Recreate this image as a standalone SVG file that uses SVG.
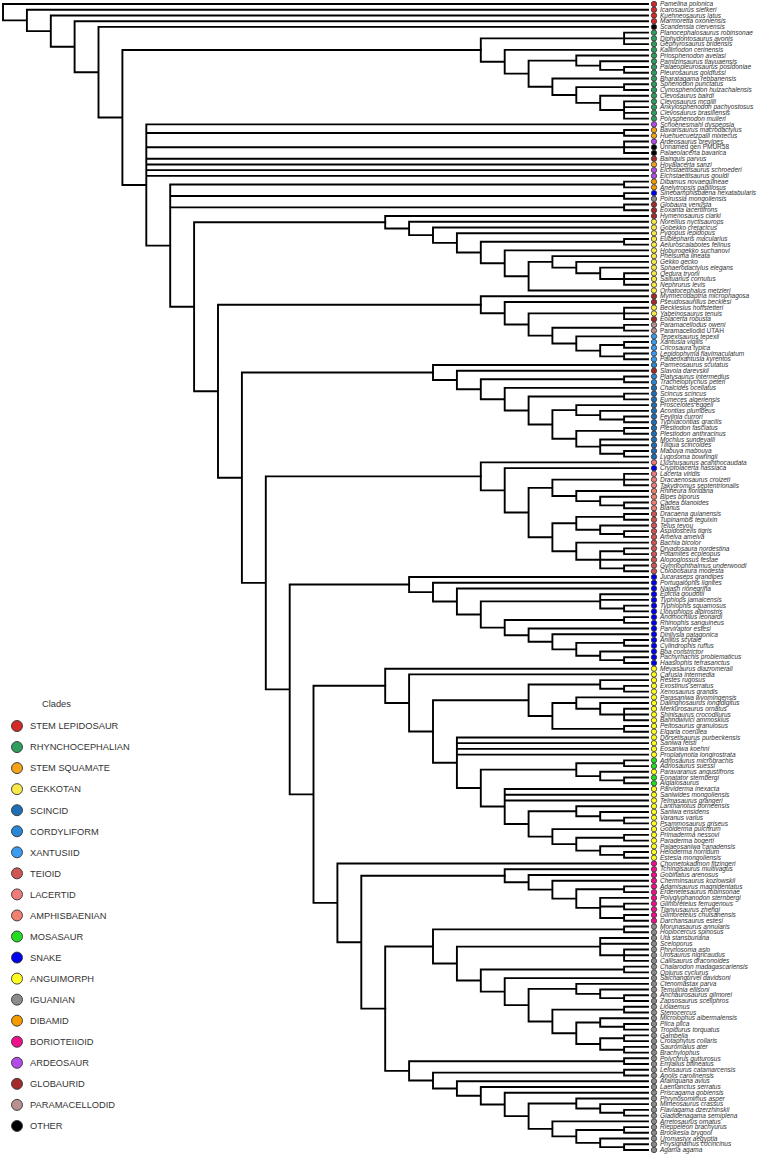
<svg xmlns="http://www.w3.org/2000/svg" width="763" height="1154" viewBox="0 0 763 1154">
<style>
.tree path{fill:none;stroke:#000;stroke-width:1.9;stroke-linecap:square;vector-effect:non-scaling-stroke}
.tip text{font-family:"Liberation Sans",Arial,sans-serif;font-size:6.5px;font-style:italic;fill:#333}
.tip text.n{font-style:normal}
.tip circle{stroke:#333;stroke-width:0.8}
.leg text{font-family:"Liberation Sans",Arial,sans-serif;font-size:9.3px;fill:#333}
.leg circle{stroke:#333;stroke-width:0.9}
.sl{fill:#d42a2a}.rh{fill:#2e9e5e}.ss{fill:#f5a31a}.gk{fill:#f7e94a}.sc{fill:#1f6fb5}.co{fill:#2a86d6}.xa{fill:#3a9cf0}.te{fill:#d05555}.la{fill:#ef7b7b}.am{fill:#f08070}.mo{fill:#22dd22}.sn{fill:#0000ee}.an{fill:#ffff22}.ig{fill:#8c8c8c}.di{fill:#f59a00}.bo{fill:#f0108c}.ar{fill:#b44be8}.gl{fill:#a52a2a}.pm{fill:#b89090}.ot{fill:#000}
</style>
<g id="connectors" class="tree" transform="translate(0,4) scale(1,5.73)">
<path id="backbone" d="M3 0V2.86M3 0H648M3 2.86H26.9M26.9 1V4.727M26.9 1H648M26.9 4.727H50.8M50.8 2V7.45M50.8 2H648M50.8 7.45H74.6M74.6 3V11.905M74.6 3H648M74.6 11.905H98.5M98.5 4V19.81M98.5 4H648M98.5 19.81H122.4M122.4 8.039V31.58M122.4 8.039H480.8M122.4 31.58H146.3M146.3 21V42.165M146.3 21H648M146.3 22.5H624.1M146.3 25H624.1M146.3 27H648M146.3 28H648M146.3 29H648M146.3 30H648M146.3 42.165H170.2M170.2 31.5V52.83M170.2 31.5H624.1M170.2 33.5H624.1M170.2 35.5H624.1M170.2 52.83H194.1M194.1 38.086V67.577M194.1 38.086H385.2M194.1 67.577H218M218 52.484V82.67M218 52.484H480.8M218 82.67H241.9M241.9 64.309V101.03M241.9 64.309H433M241.9 101.03H265.8M265.8 82.438V119.62M265.8 82.438H480.8M265.8 119.62H289.7M289.7 101.318V137.93M289.7 101.318H409.1M289.7 137.93H313.5M313.5 118.99V156.87M313.5 118.99H385.2M313.5 156.87H337.4M337.4 150V163.74M337.4 150H648M337.4 163.74H361.3M361.3 152.14V175.335M361.3 152.14H504.7M361.3 175.335H385.2"/>
<path id="stem-pairs" d="M624.1 22V23M624.1 22H648M624.1 23H648M624.1 24V26M624.1 24H648M624.1 25H648M624.1 26H648M624.1 31V32M624.1 31H648M624.1 32H648M624.1 33V34M624.1 33H648M624.1 34H648M624.1 35V36M624.1 35H648M624.1 36H648"/>
<path id="rhyncho" d="M480.8 6V10.078M480.8 6H624.1M480.8 10.078H504.7M624.1 5V7M624.1 5H648M624.1 6H648M624.1 7H648M504.7 8V12.156M504.7 8H648M504.7 12.156H528.6M528.6 9.875V14.438M528.6 9.875H576.3M528.6 14.438H552.4M576.3 9V10.75M576.3 9H648M576.3 10.75H600.2M600.2 10V11.5M600.2 10H648M600.2 11.5H624.1M624.1 11V12M624.1 11H648M624.1 12H648M552.4 13V15.875M552.4 13H648M552.4 15.875H576.3M576.3 14.5V17.25M576.3 14.5H624.1M576.3 17.25H600.2M624.1 14V15M624.1 14H648M624.1 15H648M600.2 16V18.5M600.2 16H648M600.2 18.5H624.1M624.1 17V20M624.1 17H648M624.1 18H648M624.1 19H648M624.1 20H648"/>
<path id="gekkota" d="M385.2 37V39.172M385.2 37H648M385.2 39.172H409.1M409.1 38V40.344M409.1 38H648M409.1 40.344H433M433 39V41.688M433 39H648M433 41.688H456.9M456.9 40V43.375M456.9 40H648M456.9 43.375H480.8M480.8 41.5V45.25M480.8 41.5H624.1M480.8 45.25H504.7M624.1 41V42M624.1 41H648M624.1 42H648M504.7 43V47.5M504.7 43H648M504.7 47.5H528.6M528.6 45V50M528.6 45H552.4M528.6 50H648M552.4 44V46M552.4 44H648M552.4 46H576.3M576.3 45V47M576.3 45H648M576.3 47H600.2M600.2 46V48M600.2 46H648M600.2 48H624.1M624.1 47V49M624.1 47H648M624.1 48H648M624.1 49H648"/>
<path id="paramac" d="M480.8 51V53.969M480.8 51H648M480.8 53.969H504.7M504.7 52V55.938M504.7 52H648M504.7 55.938H528.6M528.6 54V57.875M528.6 54H624.1M528.6 57.875H552.4M624.1 53V55M624.1 53H648M624.1 54H648M624.1 55H648M552.4 56.5V59.25M552.4 56.5H624.1M552.4 59.25H576.3M624.1 56V57M624.1 56H648M624.1 57H648M576.3 58V60.5M576.3 58H648M576.3 60.5H600.2M600.2 59.5V61.5M600.2 59.5H624.1M600.2 61.5H624.1M624.1 59V60M624.1 59H648M624.1 60H648M624.1 61V62M624.1 61H648M624.1 62H648"/>
<path id="scincoid" d="M433 63V65.617M433 63H648M433 65.617H456.9M456.9 64V67.234M456.9 64H648M456.9 67.234H480.8M480.8 65.5V68.969M480.8 65.5H624.1M480.8 68.969H504.7M624.1 65V66M624.1 65H648M624.1 66H648M504.7 67V70.938M504.7 67H648M504.7 70.938H528.6M528.6 68.5V73.375M528.6 68.5H624.1M528.6 73.375H552.4M624.1 68V69M624.1 68H648M624.1 69H648M552.4 70.875V75.875M552.4 70.875H576.3M552.4 75.875H576.3M576.3 70V71.75M576.3 70H648M576.3 71.75H600.2M600.2 71V72.5M600.2 71H648M600.2 72.5H624.1M624.1 72V73M624.1 72H648M624.1 73H648M576.3 74.5V77.25M576.3 74.5H624.1M576.3 77.25H600.2M624.1 74V75M624.1 74H648M624.1 75H648M600.2 76V78.5M600.2 76H648M600.2 77H648M600.2 78.5H624.1M624.1 78V79M624.1 78H648M624.1 79H648"/>
<path id="lacertoid" d="M480.8 80V84.875M480.8 80H648M480.8 84.875H504.7M504.7 81V88.75M504.7 81H648M504.7 88.75H528.6M528.6 84.438V93.063M528.6 84.438H552.4M528.6 93.063H552.4M552.4 83V85.875M552.4 83H624.1M552.4 85.875H576.3M624.1 82V84M624.1 82H648M624.1 83H648M624.1 84H648M576.3 85V86.75M576.3 85H648M576.3 86.75H600.2M600.2 86V87.5M600.2 86H648M600.2 87.5H624.1M624.1 87V88M624.1 87H648M624.1 88H648M552.4 90.625V95.5M552.4 90.625H576.3M552.4 95.5H576.3M576.3 89.5V91.75M576.3 89.5H624.1M576.3 91.75H600.2M624.1 89V90M624.1 89H648M624.1 90H648M600.2 91V92.5M600.2 91H648M600.2 92.5H624.1M624.1 92V93M624.1 92H648M624.1 93H648M576.3 94V97M576.3 94H648M576.3 97H600.2M600.2 95.5V98.5M600.2 95.5H624.1M600.2 97H648M600.2 98.5H624.1M624.1 95V96M624.1 95H648M624.1 96H648M624.1 98V99M624.1 98H648M624.1 99H648"/>
<path id="snakes" d="M409.1 100V102.635M409.1 100H648M409.1 102.635H433M433 101V104.27M433 101H648M433 104.27H456.9M456.9 102V106.539M456.9 102H648M456.9 106.539H480.8M480.8 104.25V108.828M480.8 104.25H600.2M480.8 108.828H504.7M600.2 103V105.5M600.2 103H648M600.2 104H648M600.2 105.5H624.1M624.1 105V106M624.1 105H648M624.1 106H648M504.7 107.5V110.156M504.7 107.5H624.1M504.7 110.156H528.6M624.1 107V108M624.1 107H648M624.1 108H648M528.6 109V111.313M528.6 109H648M528.6 111.313H552.4M552.4 110V112.625M552.4 110H648M552.4 112.625H576.3M576.3 111.5V113.75M576.3 111.5H624.1M576.3 113.75H600.2M624.1 111V112M624.1 111H648M624.1 112H648M600.2 113V114.5M600.2 113H648M600.2 114.5H624.1M624.1 114V115M624.1 114H648M624.1 115H648"/>
<path id="anguimorph" d="M385.2 116V121.98M385.2 116H648M385.2 121.98H409.1M409.1 117V126.959M409.1 117H648M409.1 126.959H433M433 121.5V132.418M433 121.5H528.6M433 132.418H456.9M528.6 118.75V124.25M528.6 118.75H600.2M528.6 124.25H552.4M600.2 118V119.5M600.2 118H648M600.2 119.5H624.1M624.1 119V120M624.1 119H648M624.1 120H648M552.4 122V126.5M552.4 122H576.3M552.4 126.5H624.1M576.3 121V123M576.3 121H648M576.3 123H600.2M600.2 122V124M600.2 122H648M600.2 124H624.1M624.1 123V125M624.1 123H648M624.1 124H648M624.1 125H648M624.1 126V127M624.1 126H648M624.1 127H648M456.9 128V136.836M456.9 128H648M456.9 129H648M456.9 130H648M456.9 131H648M456.9 136.836H480.8M480.8 133.625V140.047M480.8 133.625H576.3M480.8 140.047H504.7M576.3 132.5V134.75M576.3 132.5H624.1M576.3 134.75H600.2M624.1 132V133M624.1 132H648M624.1 133H648M600.2 134V135.5M600.2 134H648M600.2 135.5H624.1M624.1 135V136M624.1 135H648M624.1 136H648M504.7 137V143.094M504.7 137H648M504.7 138H648M504.7 139H648M504.7 143.094H528.6M528.6 140.875V145.313M528.6 140.875H576.3M528.6 145.313H552.4M576.3 140V141.75M576.3 140H648M576.3 141.75H600.2M600.2 141V142.5M600.2 141H648M600.2 142.5H624.1M624.1 142V143M624.1 142H648M624.1 143H648M552.4 144V146.625M552.4 144H648M552.4 146.625H576.3M576.3 145.5V147.75M576.3 145.5H624.1M576.3 147.75H600.2M624.1 145V146M624.1 145H648M624.1 146H648M600.2 147V148.5M600.2 147H648M600.2 148.5H624.1M624.1 148V149M624.1 148H648M624.1 149H648"/>
<path id="borioteiioid" d="M504.7 151V153.28M504.7 151H648M504.7 153.28H528.6M528.6 152V154.563M528.6 152H648M528.6 154.563H552.4M552.4 153V156.125M552.4 153H648M552.4 156.125H576.3M576.3 154.5V157.75M576.3 154.5H624.1M576.3 157.75H600.2M624.1 154V155M624.1 154H648M624.1 155H648M600.2 156V159.5M600.2 156H648M600.2 157.5H624.1M600.2 159.5H624.1M624.1 157V158M624.1 157H648M624.1 158H648M624.1 159V160M624.1 159H648M624.1 160H648"/>
<path id="iguania" d="M385.2 164.48V186.19M385.2 164.48H433M385.2 186.19H409.1M433 161.5V167.465M433 161.5H624.1M433 167.465H456.9M624.1 161V162M624.1 161H648M624.1 162H648M456.9 164.5V170.43M456.9 164.5H600.2M456.9 170.43H480.8M600.2 163V166M600.2 163H648M600.2 164H648M600.2 166H624.1M624.1 165V167M624.1 165H648M624.1 166H648M624.1 167H648M480.8 168.5V172.36M480.8 168.5H624.1M480.8 172.36H504.7M624.1 168V169M624.1 168H648M624.1 169H648M504.7 170V174.72M504.7 170H648M504.7 174.72H528.6M528.6 171.875V177.563M528.6 171.875H576.3M528.6 177.563H552.4M576.3 171V172.75M576.3 171H648M576.3 172.75H600.2M600.2 172V173.5M600.2 172H648M600.2 173.5H624.1M624.1 173V174M624.1 173H648M624.1 174H648M552.4 175.5V179.625M552.4 175.5H624.1M552.4 179.625H576.3M624.1 175V176M624.1 175H648M624.1 176H648M576.3 177.75V181.5M576.3 177.75H600.2M576.3 181.5H600.2M600.2 177V178.5M600.2 177H648M600.2 178.5H624.1M624.1 178V179M624.1 178H648M624.1 179H648M600.2 180.5V182.5M600.2 180.5H624.1M600.2 182.5H624.1M624.1 180V181M624.1 180H648M624.1 181H648M624.1 182V183M624.1 182H648M624.1 183H648M409.1 184.5V187.88M409.1 184.5H624.1M409.1 187.88H433M624.1 184V185M624.1 184H648M624.1 185H648M433 186.5V189.26M433 186.5H624.1M433 189.26H456.9M624.1 186V187M624.1 186H648M624.1 187H648M456.9 188V190.52M456.9 188H648M456.9 190.52H480.8M480.8 189V192.05M480.8 189H648M480.8 192.05H504.7M504.7 190V194.09M504.7 190H648M504.7 194.09H528.6M528.6 191.875V196.313M528.6 191.875H576.3M528.6 196.313H552.4M576.3 191V192.75M576.3 191H648M576.3 192.75H600.2M600.2 192V193.5M600.2 192H648M600.2 193.5H624.1M624.1 193V194M624.1 193H648M624.1 194H648M552.4 195V197.625M552.4 195H648M552.4 197.625H576.3M576.3 196.5V198.75M576.3 196.5H624.1M576.3 198.75H600.2M624.1 196V197M624.1 196H648M624.1 197H648M600.2 198V199.5M600.2 198H648M600.2 199.5H624.1M624.1 199V200M624.1 199H648M624.1 200H648"/>
</g>
<g class="tip">
<g id="t0" transform="translate(654,4)"><circle r="2.7" class="sl"/><text x="6" y="2.2">Pamelina polonica</text></g>
<g id="t1" transform="translate(654,9.73)"><circle r="2.7" class="sl"/><text x="6" y="2.2">Icarosaurus siefkeri</text></g>
<g id="t2" transform="translate(654,15.46)"><circle r="2.7" class="sl"/><text x="6" y="2.2">Kuehneosaurus latus</text></g>
<g id="t3" transform="translate(654,21.19)"><circle r="2.7" class="sl"/><text x="6" y="2.2">Marmoretta oxoniensis</text></g>
<g id="t4" transform="translate(654,26.92)"><circle r="2.7" class="ot"/><text x="6" y="2.2">Scandensia ciervensis</text></g>
<g id="t5" transform="translate(654,32.65)"><circle r="2.7" class="rh"/><text x="6" y="2.2">Planocephalosaurus robinsonae</text></g>
<g id="t6" transform="translate(654,38.38)"><circle r="2.7" class="rh"/><text x="6" y="2.2">Diphydontosaurus avonis</text></g>
<g id="t7" transform="translate(654,44.11)"><circle r="2.7" class="rh"/><text x="6" y="2.2">Gephyrosaurus bridensis</text></g>
<g id="t8" transform="translate(654,49.84)"><circle r="2.7" class="rh"/><text x="6" y="2.2">Kallimodon cerinensis</text></g>
<g id="t9" transform="translate(654,55.57)"><circle r="2.7" class="rh"/><text x="6" y="2.2">Priosphenodon avelasi</text></g>
<g id="t10" transform="translate(654,61.3)"><circle r="2.7" class="rh"/><text x="6" y="2.2">Pamizinsaurus tlayuaensis</text></g>
<g id="t11" transform="translate(654,67.03)"><circle r="2.7" class="rh"/><text x="6" y="2.2">Palaeopleurosaurus posidoniae</text></g>
<g id="t12" transform="translate(654,72.76)"><circle r="2.7" class="rh"/><text x="6" y="2.2">Pleurosaurus goldfussi</text></g>
<g id="t13" transform="translate(654,78.49)"><circle r="2.7" class="rh"/><text x="6" y="2.2">Bharatagama rebbanensis</text></g>
<g id="t14" transform="translate(654,84.22)"><circle r="2.7" class="rh"/><text x="6" y="2.2">Sphenodon punctatus</text></g>
<g id="t15" transform="translate(654,89.95)"><circle r="2.7" class="rh"/><text x="6" y="2.2">Cynosphenodon huizachalensis</text></g>
<g id="t16" transform="translate(654,95.68)"><circle r="2.7" class="rh"/><text x="6" y="2.2">Clevosaurus bairdi</text></g>
<g id="t17" transform="translate(654,101.41)"><circle r="2.7" class="rh"/><text x="6" y="2.2">Clevosaurus mcgilli</text></g>
<g id="t18" transform="translate(654,107.14)"><circle r="2.7" class="rh"/><text x="6" y="2.2">Ankylosphenodon pachyostosus</text></g>
<g id="t19" transform="translate(654,112.87)"><circle r="2.7" class="rh"/><text x="6" y="2.2">Clevosaurus brasiliensis</text></g>
<g id="t20" transform="translate(654,118.6)"><circle r="2.7" class="rh"/><text x="6" y="2.2">Polysphenodon mulleri</text></g>
<g id="t21" transform="translate(654,124.33)"><circle r="2.7" class="ar"/><text x="6" y="2.2">Schoenesmahl dyspepsia</text></g>
<g id="t22" transform="translate(654,130.06)"><circle r="2.7" class="ss"/><text x="6" y="2.2">Bavarisaurus macrodactylus</text></g>
<g id="t23" transform="translate(654,135.79)"><circle r="2.7" class="ss"/><text x="6" y="2.2">Huehuecuetzpalli mixtecus</text></g>
<g id="t24" transform="translate(654,141.52)"><circle r="2.7" class="ar"/><text x="6" y="2.2">Ardeosaurus brevipes</text></g>
<g id="t25" transform="translate(654,147.25)"><circle r="2.7" class="ot"/><text x="6" y="2.2" class="n">Unnamed gen PMUR58</text></g>
<g id="t26" transform="translate(654,152.98)"><circle r="2.7" class="ot"/><text x="6" y="2.2">Palaeolacerta bavarica</text></g>
<g id="t27" transform="translate(654,158.71)"><circle r="2.7" class="gl"/><text x="6" y="2.2">Bainguis parvus</text></g>
<g id="t28" transform="translate(654,164.44)"><circle r="2.7" class="ss"/><text x="6" y="2.2">Hoyalacerta sanzi</text></g>
<g id="t29" transform="translate(654,170.17)"><circle r="2.7" class="ar"/><text x="6" y="2.2">Eichstaettisaurus schroederi</text></g>
<g id="t30" transform="translate(654,175.9)"><circle r="2.7" class="ar"/><text x="6" y="2.2">Eichstaettisaurus gouldi</text></g>
<g id="t31" transform="translate(654,181.63)"><circle r="2.7" class="di"/><text x="6" y="2.2">Dibamus novaeguineae</text></g>
<g id="t32" transform="translate(654,187.36)"><circle r="2.7" class="di"/><text x="6" y="2.2">Anelytropsis papillosus</text></g>
<g id="t33" transform="translate(654,193.09)"><circle r="2.7" class="sn"/><text x="6" y="2.2">Sineoamphisbaena hexatabularis</text></g>
<g id="t34" transform="translate(654,198.82)"><circle r="2.7" class="ig"/><text x="6" y="2.2">Polrussia mongoliensis</text></g>
<g id="t35" transform="translate(654,204.55)"><circle r="2.7" class="gl"/><text x="6" y="2.2">Globaura venusta</text></g>
<g id="t36" transform="translate(654,210.28)"><circle r="2.7" class="gl"/><text x="6" y="2.2">Eoxanta lacertifrons</text></g>
<g id="t37" transform="translate(654,216.01)"><circle r="2.7" class="gl"/><text x="6" y="2.2">Hymenosaurus clarki</text></g>
<g id="t38" transform="translate(654,221.74)"><circle r="2.7" class="gk"/><text x="6" y="2.2">Norellius nyctisaurops</text></g>
<g id="t39" transform="translate(654,227.47)"><circle r="2.7" class="gk"/><text x="6" y="2.2">Gobekko cretacicus</text></g>
<g id="t40" transform="translate(654,233.2)"><circle r="2.7" class="gk"/><text x="6" y="2.2">Pygopus lepidopus</text></g>
<g id="t41" transform="translate(654,238.93)"><circle r="2.7" class="gk"/><text x="6" y="2.2">Eublepharis macularius</text></g>
<g id="t42" transform="translate(654,244.66)"><circle r="2.7" class="gk"/><text x="6" y="2.2">Aeluroscalabotes felinus</text></g>
<g id="t43" transform="translate(654,250.39)"><circle r="2.7" class="gk"/><text x="6" y="2.2">Hoburogekko suchanovi</text></g>
<g id="t44" transform="translate(654,256.12)"><circle r="2.7" class="gk"/><text x="6" y="2.2">Phelsuma lineata</text></g>
<g id="t45" transform="translate(654,261.85)"><circle r="2.7" class="gk"/><text x="6" y="2.2">Gekko gecko</text></g>
<g id="t46" transform="translate(654,267.58)"><circle r="2.7" class="gk"/><text x="6" y="2.2">Sphaerodactylus elegans</text></g>
<g id="t47" transform="translate(654,273.31)"><circle r="2.7" class="gk"/><text x="6" y="2.2">Oedura tryoni</text></g>
<g id="t48" transform="translate(654,279.04)"><circle r="2.7" class="gk"/><text x="6" y="2.2">Saltuarius cornutus</text></g>
<g id="t49" transform="translate(654,284.77)"><circle r="2.7" class="gk"/><text x="6" y="2.2">Nephrurus levis</text></g>
<g id="t50" transform="translate(654,290.5)"><circle r="2.7" class="gk"/><text x="6" y="2.2">Ornatocephalus metzleri</text></g>
<g id="t51" transform="translate(654,296.23)"><circle r="2.7" class="gl"/><text x="6" y="2.2">Myrmecodaptria microphagosa</text></g>
<g id="t52" transform="translate(654,301.96)"><circle r="2.7" class="gl"/><text x="6" y="2.2">Pseudosaurillus becklesi</text></g>
<g id="t53" transform="translate(654,307.69)"><circle r="2.7" class="gk"/><text x="6" y="2.2">Becklesius hoffstetteri</text></g>
<g id="t54" transform="translate(654,313.42)"><circle r="2.7" class="gk"/><text x="6" y="2.2">Yabeinosaurus tenuis</text></g>
<g id="t55" transform="translate(654,319.15)"><circle r="2.7" class="gl"/><text x="6" y="2.2">Eolacerta robusta</text></g>
<g id="t56" transform="translate(654,324.88)"><circle r="2.7" class="pm"/><text x="6" y="2.2">Paramacellodus oweni</text></g>
<g id="t57" transform="translate(654,330.61)"><circle r="2.7" class="pm"/><text x="6" y="2.2" class="n">Paramacellodid UTAH</text></g>
<g id="t58" transform="translate(654,336.34)"><circle r="2.7" class="xa"/><text x="6" y="2.2">Tepexisaurus tepexii</text></g>
<g id="t59" transform="translate(654,342.07)"><circle r="2.7" class="xa"/><text x="6" y="2.2">Xantusia vigilis</text></g>
<g id="t60" transform="translate(654,347.8)"><circle r="2.7" class="xa"/><text x="6" y="2.2">Cricosaura typica</text></g>
<g id="t61" transform="translate(654,353.53)"><circle r="2.7" class="xa"/><text x="6" y="2.2">Lepidophyma flavimaculatum</text></g>
<g id="t62" transform="translate(654,359.26)"><circle r="2.7" class="xa"/><text x="6" y="2.2">Palaeoxantusia kyrentos</text></g>
<g id="t63" transform="translate(654,364.99)"><circle r="2.7" class="co"/><text x="6" y="2.2">Parmeosaurus scutatus</text></g>
<g id="t64" transform="translate(654,370.72)"><circle r="2.7" class="gl"/><text x="6" y="2.2">Slavoia darevskii</text></g>
<g id="t65" transform="translate(654,376.45)"><circle r="2.7" class="co"/><text x="6" y="2.2">Platysaurus intermedius</text></g>
<g id="t66" transform="translate(654,382.18)"><circle r="2.7" class="co"/><text x="6" y="2.2">Tracheloptychus peteri</text></g>
<g id="t67" transform="translate(654,387.91)"><circle r="2.7" class="sc"/><text x="6" y="2.2">Chalcides ocellatus</text></g>
<g id="t68" transform="translate(654,393.64)"><circle r="2.7" class="sc"/><text x="6" y="2.2">Scincus scincus</text></g>
<g id="t69" transform="translate(654,399.37)"><circle r="2.7" class="sc"/><text x="6" y="2.2">Eumeces algeriensis</text></g>
<g id="t70" transform="translate(654,405.1)"><circle r="2.7" class="sc"/><text x="6" y="2.2">Proscelotes eggeli</text></g>
<g id="t71" transform="translate(654,410.83)"><circle r="2.7" class="sc"/><text x="6" y="2.2">Acontias plumbeus</text></g>
<g id="t72" transform="translate(654,416.56)"><circle r="2.7" class="sc"/><text x="6" y="2.2">Feylinia currori</text></g>
<g id="t73" transform="translate(654,422.29)"><circle r="2.7" class="sc"/><text x="6" y="2.2">Typhlacontias gracilis</text></g>
<g id="t74" transform="translate(654,428.02)"><circle r="2.7" class="sc"/><text x="6" y="2.2">Plestiodon fasciatus</text></g>
<g id="t75" transform="translate(654,433.75)"><circle r="2.7" class="sc"/><text x="6" y="2.2">Plestiodon anthracinus</text></g>
<g id="t76" transform="translate(654,439.48)"><circle r="2.7" class="sc"/><text x="6" y="2.2">Mochlus sundevalli</text></g>
<g id="t77" transform="translate(654,445.21)"><circle r="2.7" class="sc"/><text x="6" y="2.2">Tiliqua scincoides</text></g>
<g id="t78" transform="translate(654,450.94)"><circle r="2.7" class="sc"/><text x="6" y="2.2">Mabuya mabouya</text></g>
<g id="t79" transform="translate(654,456.67)"><circle r="2.7" class="sc"/><text x="6" y="2.2">Lygosoma bowringii</text></g>
<g id="t80" transform="translate(654,462.4)"><circle r="2.7" class="la"/><text x="6" y="2.2">Liushusaurus acanthocaudata</text></g>
<g id="t81" transform="translate(654,468.13)"><circle r="2.7" class="sn"/><text x="6" y="2.2">Cryptolacerta hassiaca</text></g>
<g id="t82" transform="translate(654,473.86)"><circle r="2.7" class="la"/><text x="6" y="2.2">Lacerta viridis</text></g>
<g id="t83" transform="translate(654,479.59)"><circle r="2.7" class="la"/><text x="6" y="2.2">Dracaenosaurus croizeti</text></g>
<g id="t84" transform="translate(654,485.32)"><circle r="2.7" class="la"/><text x="6" y="2.2">Takydromus septentrionalis</text></g>
<g id="t85" transform="translate(654,491.05)"><circle r="2.7" class="am"/><text x="6" y="2.2">Rhineura floridana</text></g>
<g id="t86" transform="translate(654,496.78)"><circle r="2.7" class="am"/><text x="6" y="2.2">Bipes biporus</text></g>
<g id="t87" transform="translate(654,502.51)"><circle r="2.7" class="am"/><text x="6" y="2.2">Cadea blanoides</text></g>
<g id="t88" transform="translate(654,508.24)"><circle r="2.7" class="am"/><text x="6" y="2.2">Blanus</text></g>
<g id="t89" transform="translate(654,513.97)"><circle r="2.7" class="te"/><text x="6" y="2.2">Dracaena guianensis</text></g>
<g id="t90" transform="translate(654,519.7)"><circle r="2.7" class="te"/><text x="6" y="2.2">Tupinambis teguixin</text></g>
<g id="t91" transform="translate(654,525.43)"><circle r="2.7" class="te"/><text x="6" y="2.2">Teius teyou</text></g>
<g id="t92" transform="translate(654,531.16)"><circle r="2.7" class="te"/><text x="6" y="2.2">Aspidoscelis tigris</text></g>
<g id="t93" transform="translate(654,536.89)"><circle r="2.7" class="te"/><text x="6" y="2.2">Ameiva ameiva</text></g>
<g id="t94" transform="translate(654,542.62)"><circle r="2.7" class="te"/><text x="6" y="2.2">Bachia bicolor</text></g>
<g id="t95" transform="translate(654,548.35)"><circle r="2.7" class="te"/><text x="6" y="2.2">Dryadosaura nordestina</text></g>
<g id="t96" transform="translate(654,554.08)"><circle r="2.7" class="te"/><text x="6" y="2.2">Potamites ecpleopus</text></g>
<g id="t97" transform="translate(654,559.81)"><circle r="2.7" class="te"/><text x="6" y="2.2">Alopoglossus festae</text></g>
<g id="t98" transform="translate(654,565.54)"><circle r="2.7" class="te"/><text x="6" y="2.2">Gymnophthalmus underwoodi</text></g>
<g id="t99" transform="translate(654,571.27)"><circle r="2.7" class="te"/><text x="6" y="2.2">Colobosaura modesta</text></g>
<g id="t100" transform="translate(654,577)"><circle r="2.7" class="sn"/><text x="6" y="2.2">Jucaraseps grandipes</text></g>
<g id="t101" transform="translate(654,582.73)"><circle r="2.7" class="sn"/><text x="6" y="2.2">Portugalophis lignites</text></g>
<g id="t102" transform="translate(654,588.46)"><circle r="2.7" class="sn"/><text x="6" y="2.2">Najash rionegrina</text></g>
<g id="t103" transform="translate(654,594.19)"><circle r="2.7" class="sn"/><text x="6" y="2.2">Epictia goudotii</text></g>
<g id="t104" transform="translate(654,599.92)"><circle r="2.7" class="sn"/><text x="6" y="2.2">Typhlops jamaicensis</text></g>
<g id="t105" transform="translate(654,605.65)"><circle r="2.7" class="sn"/><text x="6" y="2.2">Typhlophis squamosus</text></g>
<g id="t106" transform="translate(654,611.38)"><circle r="2.7" class="sn"/><text x="6" y="2.2">Liotyphlops albirostris</text></g>
<g id="t107" transform="translate(654,617.11)"><circle r="2.7" class="sn"/><text x="6" y="2.2">Anomochilus leonardi</text></g>
<g id="t108" transform="translate(654,622.84)"><circle r="2.7" class="sn"/><text x="6" y="2.2">Rhinophis sanguineus</text></g>
<g id="t109" transform="translate(654,628.57)"><circle r="2.7" class="sn"/><text x="6" y="2.2">Parviraptor estesi</text></g>
<g id="t110" transform="translate(654,634.3)"><circle r="2.7" class="sn"/><text x="6" y="2.2">Dinilysia patagonica</text></g>
<g id="t111" transform="translate(654,640.03)"><circle r="2.7" class="sn"/><text x="6" y="2.2">Anilius scytale</text></g>
<g id="t112" transform="translate(654,645.76)"><circle r="2.7" class="sn"/><text x="6" y="2.2">Cylindrophis ruffus</text></g>
<g id="t113" transform="translate(654,651.49)"><circle r="2.7" class="sn"/><text x="6" y="2.2">Boa constrictor</text></g>
<g id="t114" transform="translate(654,657.22)"><circle r="2.7" class="sn"/><text x="6" y="2.2">Pachyrhachis problematicus</text></g>
<g id="t115" transform="translate(654,662.95)"><circle r="2.7" class="sn"/><text x="6" y="2.2">Haasiophis terrasanctus</text></g>
<g id="t116" transform="translate(654,668.68)"><circle r="2.7" class="an"/><text x="6" y="2.2">Meyasaurus diazromerali</text></g>
<g id="t117" transform="translate(654,674.41)"><circle r="2.7" class="an"/><text x="6" y="2.2">Carusia intermedia</text></g>
<g id="t118" transform="translate(654,680.14)"><circle r="2.7" class="an"/><text x="6" y="2.2">Restes rugosus</text></g>
<g id="t119" transform="translate(654,685.87)"><circle r="2.7" class="an"/><text x="6" y="2.2">Exostinus serratus</text></g>
<g id="t120" transform="translate(654,691.6)"><circle r="2.7" class="an"/><text x="6" y="2.2">Xenosaurus grandis</text></g>
<g id="t121" transform="translate(654,697.33)"><circle r="2.7" class="an"/><text x="6" y="2.2">Parasaniwa wyomingensis</text></g>
<g id="t122" transform="translate(654,703.06)"><circle r="2.7" class="an"/><text x="6" y="2.2">Dalinghosaurus longidigitus</text></g>
<g id="t123" transform="translate(654,708.79)"><circle r="2.7" class="an"/><text x="6" y="2.2">Merkurosaurus ornatus</text></g>
<g id="t124" transform="translate(654,714.52)"><circle r="2.7" class="an"/><text x="6" y="2.2">Shinisaurus crocodilurus</text></g>
<g id="t125" transform="translate(654,720.25)"><circle r="2.7" class="an"/><text x="6" y="2.2">Bahndwivici ammoskius</text></g>
<g id="t126" transform="translate(654,725.98)"><circle r="2.7" class="an"/><text x="6" y="2.2">Peltosaurus granulosus</text></g>
<g id="t127" transform="translate(654,731.71)"><circle r="2.7" class="an"/><text x="6" y="2.2">Elgaria coerulea</text></g>
<g id="t128" transform="translate(654,737.44)"><circle r="2.7" class="an"/><text x="6" y="2.2">Dorsetisaurus purbeckensis</text></g>
<g id="t129" transform="translate(654,743.17)"><circle r="2.7" class="an"/><text x="6" y="2.2">Saniwa feisti</text></g>
<g id="t130" transform="translate(654,748.9)"><circle r="2.7" class="an"/><text x="6" y="2.2">Eosaniwa koehni</text></g>
<g id="t131" transform="translate(654,754.63)"><circle r="2.7" class="an"/><text x="6" y="2.2">Proplatynotia longirostrata</text></g>
<g id="t132" transform="translate(654,760.36)"><circle r="2.7" class="mo"/><text x="6" y="2.2">Adriosaurus microbrachis</text></g>
<g id="t133" transform="translate(654,766.09)"><circle r="2.7" class="mo"/><text x="6" y="2.2">Adriosaurus suessi</text></g>
<g id="t134" transform="translate(654,771.82)"><circle r="2.7" class="an"/><text x="6" y="2.2">Paravaranus angustifrons</text></g>
<g id="t135" transform="translate(654,777.55)"><circle r="2.7" class="mo"/><text x="6" y="2.2">Eonatator sternbergi</text></g>
<g id="t136" transform="translate(654,783.28)"><circle r="2.7" class="mo"/><text x="6" y="2.2">Aigialosaurus</text></g>
<g id="t137" transform="translate(654,789.01)"><circle r="2.7" class="an"/><text x="6" y="2.2">Parviderma inexacta</text></g>
<g id="t138" transform="translate(654,794.74)"><circle r="2.7" class="an"/><text x="6" y="2.2">Saniwides mongoliensis</text></g>
<g id="t139" transform="translate(654,800.47)"><circle r="2.7" class="an"/><text x="6" y="2.2">Telmasaurus grangeri</text></g>
<g id="t140" transform="translate(654,806.2)"><circle r="2.7" class="an"/><text x="6" y="2.2">Lanthanotus borneensis</text></g>
<g id="t141" transform="translate(654,811.93)"><circle r="2.7" class="an"/><text x="6" y="2.2">Saniwa ensidens</text></g>
<g id="t142" transform="translate(654,817.66)"><circle r="2.7" class="an"/><text x="6" y="2.2">Varanus varius</text></g>
<g id="t143" transform="translate(654,823.39)"><circle r="2.7" class="an"/><text x="6" y="2.2">Psammosaurus griseus</text></g>
<g id="t144" transform="translate(654,829.12)"><circle r="2.7" class="an"/><text x="6" y="2.2">Gobiderma pulchrum</text></g>
<g id="t145" transform="translate(654,834.85)"><circle r="2.7" class="an"/><text x="6" y="2.2">Primaderma nessovi</text></g>
<g id="t146" transform="translate(654,840.58)"><circle r="2.7" class="an"/><text x="6" y="2.2">Paraderma bogerti</text></g>
<g id="t147" transform="translate(654,846.31)"><circle r="2.7" class="an"/><text x="6" y="2.2">Palaeosaniwa canadensis</text></g>
<g id="t148" transform="translate(654,852.04)"><circle r="2.7" class="an"/><text x="6" y="2.2">Heloderma horridum</text></g>
<g id="t149" transform="translate(654,857.77)"><circle r="2.7" class="an"/><text x="6" y="2.2">Estesia mongoliensis</text></g>
<g id="t150" transform="translate(654,863.5)"><circle r="2.7" class="bo"/><text x="6" y="2.2">Chometokadmon fitzingeri</text></g>
<g id="t151" transform="translate(654,869.23)"><circle r="2.7" class="bo"/><text x="6" y="2.2">Tchingisaurus multivagus</text></g>
<g id="t152" transform="translate(654,874.96)"><circle r="2.7" class="bo"/><text x="6" y="2.2">Gobinatus arenosus</text></g>
<g id="t153" transform="translate(654,880.69)"><circle r="2.7" class="bo"/><text x="6" y="2.2">Cherminsaurus kozlowskii</text></g>
<g id="t154" transform="translate(654,886.42)"><circle r="2.7" class="bo"/><text x="6" y="2.2">Adamisaurus magnidentatus</text></g>
<g id="t155" transform="translate(654,892.15)"><circle r="2.7" class="bo"/><text x="6" y="2.2">Erdenetesaurus robinsonae</text></g>
<g id="t156" transform="translate(654,897.88)"><circle r="2.7" class="bo"/><text x="6" y="2.2">Polyglyphanodon sternbergi</text></g>
<g id="t157" transform="translate(654,903.61)"><circle r="2.7" class="bo"/><text x="6" y="2.2">Gilmoreteius ferrugenous</text></g>
<g id="t158" transform="translate(654,909.34)"><circle r="2.7" class="bo"/><text x="6" y="2.2">Tianyusaurus zhengi</text></g>
<g id="t159" transform="translate(654,915.07)"><circle r="2.7" class="bo"/><text x="6" y="2.2">Gilmoreteius chulsanensis</text></g>
<g id="t160" transform="translate(654,920.8)"><circle r="2.7" class="bo"/><text x="6" y="2.2">Darchansaurus estesi</text></g>
<g id="t161" transform="translate(654,926.53)"><circle r="2.7" class="ig"/><text x="6" y="2.2">Morunasaurus annularis</text></g>
<g id="t162" transform="translate(654,932.26)"><circle r="2.7" class="ig"/><text x="6" y="2.2">Hoplocercus spinosus</text></g>
<g id="t163" transform="translate(654,937.99)"><circle r="2.7" class="ig"/><text x="6" y="2.2">Uta stansburiana</text></g>
<g id="t164" transform="translate(654,943.72)"><circle r="2.7" class="ig"/><text x="6" y="2.2">Sceloporus</text></g>
<g id="t165" transform="translate(654,949.45)"><circle r="2.7" class="ig"/><text x="6" y="2.2">Phrynosoma asio</text></g>
<g id="t166" transform="translate(654,955.18)"><circle r="2.7" class="ig"/><text x="6" y="2.2">Urosaurus nigricaudus</text></g>
<g id="t167" transform="translate(654,960.91)"><circle r="2.7" class="ig"/><text x="6" y="2.2">Callisaurus draconoides</text></g>
<g id="t168" transform="translate(654,966.64)"><circle r="2.7" class="ig"/><text x="6" y="2.2">Chalarodon madagascariensis</text></g>
<g id="t169" transform="translate(654,972.37)"><circle r="2.7" class="ig"/><text x="6" y="2.2">Oplurus cyclurus</text></g>
<g id="t170" transform="translate(654,978.1)"><circle r="2.7" class="ig"/><text x="6" y="2.2">Saichangurvel davidsoni</text></g>
<g id="t171" transform="translate(654,983.83)"><circle r="2.7" class="ig"/><text x="6" y="2.2">Ctenomastax parva</text></g>
<g id="t172" transform="translate(654,989.56)"><circle r="2.7" class="ig"/><text x="6" y="2.2">Temujinia ellisoni</text></g>
<g id="t173" transform="translate(654,995.29)"><circle r="2.7" class="ig"/><text x="6" y="2.2">Anchaurosaurus gilmorei</text></g>
<g id="t174" transform="translate(654,1001.02)"><circle r="2.7" class="ig"/><text x="6" y="2.2">Zapsosaurus sceliphros</text></g>
<g id="t175" transform="translate(654,1006.75)"><circle r="2.7" class="ig"/><text x="6" y="2.2">Liolaemus</text></g>
<g id="t176" transform="translate(654,1012.48)"><circle r="2.7" class="ig"/><text x="6" y="2.2">Stenocercus</text></g>
<g id="t177" transform="translate(654,1018.21)"><circle r="2.7" class="ig"/><text x="6" y="2.2">Microlophus albermalensis</text></g>
<g id="t178" transform="translate(654,1023.94)"><circle r="2.7" class="ig"/><text x="6" y="2.2">Plica plica</text></g>
<g id="t179" transform="translate(654,1029.67)"><circle r="2.7" class="ig"/><text x="6" y="2.2">Tropidurus torquatus</text></g>
<g id="t180" transform="translate(654,1035.4)"><circle r="2.7" class="ig"/><text x="6" y="2.2">Gambelia</text></g>
<g id="t181" transform="translate(654,1041.13)"><circle r="2.7" class="ig"/><text x="6" y="2.2">Crotaphytus collaris</text></g>
<g id="t182" transform="translate(654,1046.86)"><circle r="2.7" class="ig"/><text x="6" y="2.2">Sauromalus ater</text></g>
<g id="t183" transform="translate(654,1052.59)"><circle r="2.7" class="ig"/><text x="6" y="2.2">Brachylophus</text></g>
<g id="t184" transform="translate(654,1058.32)"><circle r="2.7" class="ig"/><text x="6" y="2.2">Polychrus gutturosus</text></g>
<g id="t185" transform="translate(654,1064.05)"><circle r="2.7" class="ig"/><text x="6" y="2.2">Enyalius bilineatus</text></g>
<g id="t186" transform="translate(654,1069.78)"><circle r="2.7" class="ig"/><text x="6" y="2.2">Leiosaurus catamarcensis</text></g>
<g id="t187" transform="translate(654,1075.51)"><circle r="2.7" class="ig"/><text x="6" y="2.2">Anolis carolinensis</text></g>
<g id="t188" transform="translate(654,1081.24)"><circle r="2.7" class="ig"/><text x="6" y="2.2">Afairiguana avius</text></g>
<g id="t189" transform="translate(654,1086.97)"><circle r="2.7" class="ig"/><text x="6" y="2.2">Laemanctus serratus</text></g>
<g id="t190" transform="translate(654,1092.7)"><circle r="2.7" class="ig"/><text x="6" y="2.2">Priscagama gobiensis</text></g>
<g id="t191" transform="translate(654,1098.43)"><circle r="2.7" class="ig"/><text x="6" y="2.2">Phrynosomimus asper</text></g>
<g id="t192" transform="translate(654,1104.16)"><circle r="2.7" class="ig"/><text x="6" y="2.2">Mimeosaurus crassus</text></g>
<g id="t193" transform="translate(654,1109.89)"><circle r="2.7" class="ig"/><text x="6" y="2.2">Flaviagama dzerzhinskii</text></g>
<g id="t194" transform="translate(654,1115.62)"><circle r="2.7" class="ig"/><text x="6" y="2.2">Gladidenagama semiplena</text></g>
<g id="t195" transform="translate(654,1121.35)"><circle r="2.7" class="ig"/><text x="6" y="2.2">Arretosaurus ornatus</text></g>
<g id="t196" transform="translate(654,1127.08)"><circle r="2.7" class="ig"/><text x="6" y="2.2">Rieppeleon brachyurus</text></g>
<g id="t197" transform="translate(654,1132.81)"><circle r="2.7" class="ig"/><text x="6" y="2.2">Brookesia brygooi</text></g>
<g id="t198" transform="translate(654,1138.54)"><circle r="2.7" class="ig"/><text x="6" y="2.2">Uromastyx aegyptia</text></g>
<g id="t199" transform="translate(654,1144.27)"><circle r="2.7" class="ig"/><text x="6" y="2.2">Physignathus cocincinus</text></g>
<g id="t200" transform="translate(654,1150)"><circle r="2.7" class="ig"/><text x="6" y="2.2">Agama agama</text></g>
</g>
<g class="leg" id="legend">
<text x="42" y="707">Clades</text>
<g id="lg1"><circle cx="17" cy="726" r="5.5" class="sl"/><text x="30" y="729.3">STEM LEPIDOSAUR</text></g>
<g id="lg2"><circle cx="17" cy="747.05" r="5.5" class="rh"/><text x="30" y="750.35">RHYNCHOCEPHALIAN</text></g>
<g id="lg3"><circle cx="17" cy="768.1" r="5.5" class="ss"/><text x="30" y="771.4">STEM SQUAMATE</text></g>
<g id="lg4"><circle cx="17" cy="789.15" r="5.5" class="gk"/><text x="30" y="792.45">GEKKOTAN</text></g>
<g id="lg5"><circle cx="17" cy="810.2" r="5.5" class="sc"/><text x="30" y="813.5">SCINCID</text></g>
<g id="lg6"><circle cx="17" cy="831.25" r="5.5" class="co"/><text x="30" y="834.55">CORDYLIFORM</text></g>
<g id="lg7"><circle cx="17" cy="852.3" r="5.5" class="xa"/><text x="30" y="855.6">XANTUSIID</text></g>
<g id="lg8"><circle cx="17" cy="873.35" r="5.5" class="te"/><text x="30" y="876.65">TEIOID</text></g>
<g id="lg9"><circle cx="17" cy="894.4" r="5.5" class="la"/><text x="30" y="897.7">LACERTID</text></g>
<g id="lg10"><circle cx="17" cy="915.45" r="5.5" class="am"/><text x="30" y="918.75">AMPHISBAENIAN</text></g>
<g id="lg11"><circle cx="17" cy="936.5" r="5.5" class="mo"/><text x="30" y="939.8">MOSASAUR</text></g>
<g id="lg12"><circle cx="17" cy="957.55" r="5.5" class="sn"/><text x="30" y="960.85">SNAKE</text></g>
<g id="lg13"><circle cx="17" cy="978.6" r="5.5" class="an"/><text x="30" y="981.9">ANGUIMORPH</text></g>
<g id="lg14"><circle cx="17" cy="999.65" r="5.5" class="ig"/><text x="30" y="1002.95">IGUANIAN</text></g>
<g id="lg15"><circle cx="17" cy="1020.7" r="5.5" class="di"/><text x="30" y="1024">DIBAMID</text></g>
<g id="lg16"><circle cx="17" cy="1041.75" r="5.5" class="bo"/><text x="30" y="1045.05">BORIOTEIIOID</text></g>
<g id="lg17"><circle cx="17" cy="1062.8" r="5.5" class="ar"/><text x="30" y="1066.1">ARDEOSAUR</text></g>
<g id="lg18"><circle cx="17" cy="1083.85" r="5.5" class="gl"/><text x="30" y="1087.15">GLOBAURID</text></g>
<g id="lg19"><circle cx="17" cy="1104.9" r="5.5" class="pm"/><text x="30" y="1108.2">PARAMACELLODID</text></g>
<g id="lg20"><circle cx="17" cy="1125.95" r="5.5" class="ot"/><text x="30" y="1129.25">OTHER</text></g>
</g>
</svg>
